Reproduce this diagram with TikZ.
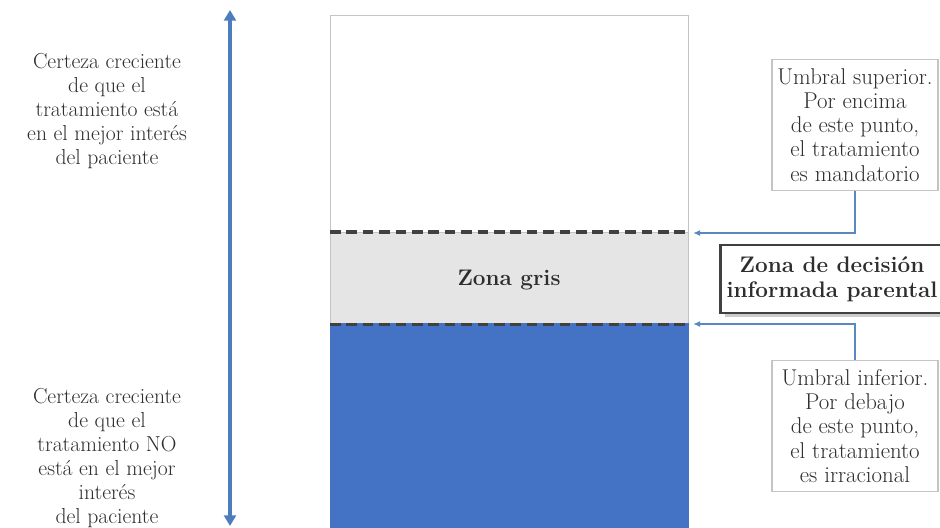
\documentclass[tikz,border=0pt]{standalone}
\usetikzlibrary{arrows.meta}
\definecolor{barblue}{HTML}{4472C4}
\definecolor{greyzone}{HTML}{E6E5E6}
\definecolor{framegrey}{HTML}{C4C4C4}
\definecolor{dashgrey}{HTML}{404040}
\definecolor{arrowblue}{HTML}{4E7DBE}
\definecolor{linkblue}{HTML}{5A88C3}
\definecolor{inkgrey}{HTML}{2E2E2E}
\definecolor{shadegrey}{HTML}{A8A8A8}
\begin{document}
\begin{tikzpicture}[x=0.03cm,y=-0.03cm,
  txt/.style={align=center,text=inkgrey,font=\fontsize{18.5}{20.4}\selectfont},
  notetxt/.style={align=center,text=inkgrey,font=\fontsize{19.5}{20.6}\selectfont},
  zone/.style={anchor=north west,minimum width=10.74cm,inner sep=0pt,draw=framegrey,line width=0.9pt},
  notebox/.style={notetxt,draw=framegrey,line width=1.6pt,fill=white,minimum width=4.98cm,minimum height=3.93cm,inner sep=0pt},
  keybox/.style={align=center,text=inkgrey,font=\fontsize{19.2}{21.5}\selectfont\bfseries,draw=dashgrey,line width=2.2pt,fill=white,minimum width=6.69cm,minimum height=2.04cm,inner sep=0pt},
  threshold/.style={dashgrey,line width=2.6pt,dash pattern=on 9pt off 5pt},
  link/.style={linkblue,line width=1.6pt,-{Latex[length=6pt,width=5pt]}},
  certscale/.style={arrowblue,line width=2.6pt,{Triangle[length=9pt,width=10pt]}-{Triangle[length=9pt,width=10pt]}}]
\useasboundingbox (0,0) rectangle (940,528);

% stacked column: certainty bands
\node[zone,fill=white,minimum height=6.51cm] (upper) at (330,15) {};
\node[zone,fill=greyzone,minimum height=2.73cm] (grey) at (330,232) {};
\node[zone,fill=barblue,draw=barblue,minimum height=6.3cm] (lower) at (330,323) {};
\node[align=center,text=inkgrey,font=\fontsize{19.2}{21}\selectfont\bfseries] (greylabel) at (509,280) {Zona gris};

% threshold lines
\draw[threshold] (grey.north west) -- (grey.north east);
\draw[threshold] (grey.south west) -- (grey.south east);

% certainty scale
\coordinate (scaletop) at (230,10);
\coordinate (scalebot) at (230,526);
\draw[certscale] (scalebot) -- (scaletop);

% side captions
\node[txt] (capup) at (107,111) {Certeza creciente\\de que el\\tratamiento está\\en el mejor interés\\del paciente};
\node[txt] (capdown) at (107,458) {Certeza creciente\\de que el\\tratamiento NO\\está en el mejor\\interés\\del paciente};

% threshold notes
\node[notebox] (upnote) at (855,125) {Umbral superior.\\Por encima\\de este punto,\\el tratamiento\\es mandatorio};
\node[notebox] (downnote) at (855,426) {Umbral inferior.\\Por debajo\\de este punto,\\el tratamiento\\es irracional};

% decision zone label with a soft drop shadow
\fill[shadegrey,opacity=0.6] (725,249) rectangle (950,317);
\node[keybox] (decision) at (832,279) {Zona de decisión\\informada parental};

\coordinate (uptip) at (693,233);
\coordinate (downtip) at (693,324);
\draw[link] (upnote.south) |- (uptip);
\draw[link] (downnote.north) |- (downtip);
\end{tikzpicture}
\end{document}
